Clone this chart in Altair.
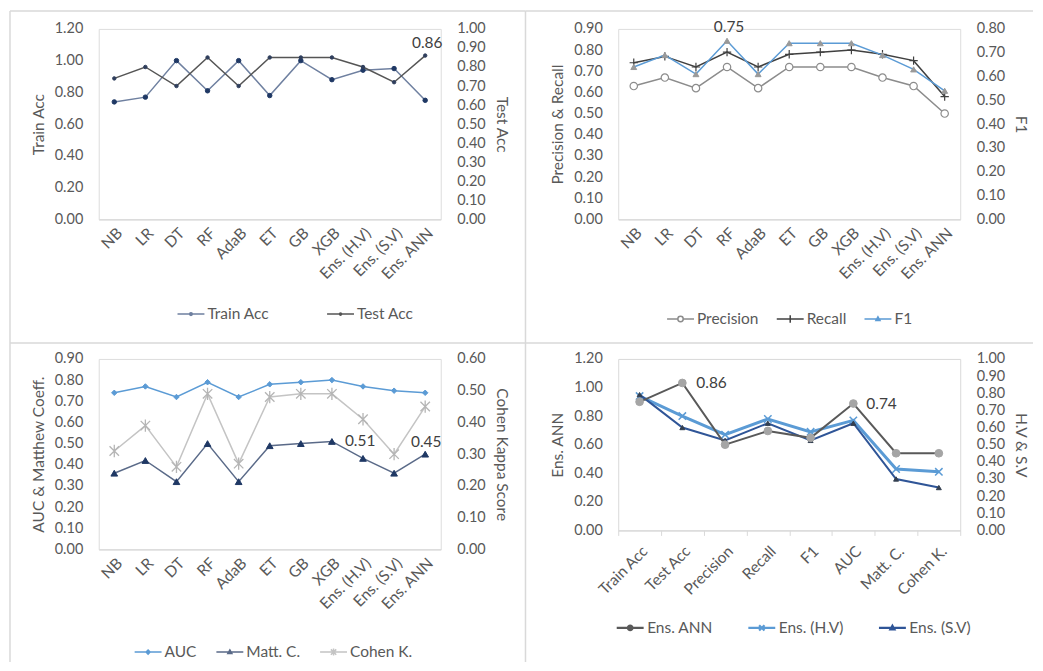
import altair as alt
import pandas as pd

FONT = "Lato"
TXT = "#595959"
DARK = "#404040"
FRAME = "#D9D9D9"

# ---------------- data ----------------
models = ["NB", "LR", "DT", "RF", "AdaB", "ET", "GB", "XGB",
          "Ens. (H.V)", "Ens. (S.V)", "Ens. ANN"]
train_acc = [0.74, 0.77, 1.00, 0.81, 1.00, 0.78, 1.00, 0.88, 0.94, 0.95, 0.75]
test_acc = [0.74, 0.80, 0.70, 0.85, 0.70, 0.85, 0.85, 0.85, 0.80, 0.72, 0.86]
precision = [0.63, 0.67, 0.62, 0.72, 0.62, 0.72, 0.72, 0.72, 0.67, 0.63, 0.50]
recall = [0.74, 0.77, 0.72, 0.79, 0.72, 0.78, 0.79, 0.80, 0.78, 0.75, 0.58]
f1 = [0.64, 0.69, 0.61, 0.75, 0.61, 0.74, 0.74, 0.74, 0.69, 0.63, 0.54]
auc = [0.74, 0.77, 0.72, 0.79, 0.72, 0.78, 0.79, 0.80, 0.77, 0.75, 0.74]
matt_c = [0.36, 0.42, 0.32, 0.50, 0.32, 0.49, 0.50, 0.51, 0.43, 0.36, 0.45]
cohen_k = [0.31, 0.39, 0.26, 0.49, 0.27, 0.48, 0.49, 0.49, 0.41, 0.30, 0.45]

metrics = ["Train Acc", "Test Acc", "Precision", "Recall", "F1", "AUC", "Matt. C.", "Cohen K."]


def ens_row(i):
    return [train_acc[i], test_acc[i], precision[i], recall[i], f1[i], auc[i], matt_c[i], cohen_k[i]]


ens_hv = ens_row(8)
ens_sv = ens_row(9)
ens_ann = ens_row(10)

ticks_12 = [0.0, 0.2, 0.4, 0.6, 0.8, 1.0, 1.2]
ticks_10 = [0.0, 0.1, 0.2, 0.3, 0.4, 0.5, 0.6, 0.7, 0.8, 0.9, 1.0]
ticks_09 = [0.0, 0.1, 0.2, 0.3, 0.4, 0.5, 0.6, 0.7, 0.8, 0.9]
ticks_08 = [0.0, 0.1, 0.2, 0.3, 0.4, 0.5, 0.6, 0.7, 0.8]
ticks_06 = [0.0, 0.1, 0.2, 0.3, 0.4, 0.5, 0.6]

# ---------------- marker shapes ----------------
P_PLUS = "M-1,0L1,0M0,-1L0,1"
P_X = "M-1,-1L1,1M-1,1L1,-1"
P_STAR = "M-1,-1L1,1M-1,1L1,-1M0,-1.3L0,1.3"

LINE = "M-1,0L1,0"


def circ(r):
    return f"M{-r},0A{r},{r},0,1,0,{r},0A{r},{r},0,1,0,{-r},0Z"


TRI = "M0,-0.16L0.15,0.11L-0.15,0.11Z"
DIA = "M0,-0.15L0.15,0L0,0.15L-0.15,0Z"


def S(name, values, color, width, shape, size, filled, mfill=None, mstroke=None, msw=1.0,
      lpath=LINE, lfill=None):
    return dict(name=name, values=values, color=color, width=width, shape=shape, size=size,
                filled=filled, mfill=mfill, mstroke=mstroke, msw=msw, lpath=lpath,
                lfill=lfill if lfill else (mfill if mfill else color))


def yaxis(ticks, title, orient):
    return alt.Axis(values=ticks, format=".2f", title=title, orient=orient, domain=False,
                    ticks=False, grid=False, labelPadding=16, titlePadding=8,
                    labelFont=FONT, labelFontSize=14.5, labelColor=TXT, labelOverlap=False,
                    titleFont=FONT, titleFontSize=15.5, titleFontWeight="normal", titleColor=TXT)


def series_layers(cats, s, X, Y):
    df = pd.DataFrame({"cat": cats, "value": s["values"]})
    base = alt.Chart(df)
    line = base.mark_line(color=s["color"], strokeWidth=s["width"]).encode(x=X, y=Y)
    kw = dict(shape=s["shape"], size=s["size"], filled=s["filled"], opacity=1,
              strokeWidth=s["msw"])
    if s["mfill"]:
        kw["fill"] = s["mfill"]
    kw["stroke"] = s["mstroke"] if s["mstroke"] else (s["mfill"] if s["mfill"] else s["color"])
    pt = base.mark_point(**kw).encode(x=X, y=Y)
    return [line, pt]


def label_layer(cats, s, idx, X, Y, dx, dy, align):
    df = pd.DataFrame({"cat": [cats[idx]], "value": [s["values"][idx]]})
    return alt.Chart(df).mark_text(dx=dx, dy=dy, align=align, baseline="middle", font=FONT,
                                   fontSize=15.5, color=DARK).encode(
        x=X, y=Y, text=alt.Text("value:Q", format=".2f"))


def legend_layer(series, lx, ly, colpad, sw):
    names = [s["name"] for s in series]
    d = pd.DataFrame({"series": names})
    leg = alt.Legend(title=None, orient="none", legendX=lx, legendY=ly, direction="horizontal",
                     symbolSize=729, symbolStrokeWidth=sw, symbolOpacity=1, labelOffset=2,
                     columnPadding=colpad, labelFont=FONT, labelFontSize=15.5, labelColor=TXT,
                     padding=0, labelLimit=200)
    return alt.Chart(d).mark_point(filled=True, opacity=0, size=1).encode(
        shape=alt.Shape("series:N", scale=alt.Scale(domain=names, range=[s["lpath"] for s in series]), legend=leg),
        fill=alt.Fill("series:N", scale=alt.Scale(domain=names, range=[s["lfill"] for s in series]), legend=leg),
        stroke=alt.Stroke("series:N", scale=alt.Scale(domain=names, range=[s["color"] for s in series]), legend=leg),
    )


def frame_layers(x1, x2, y1, y2):
    # top edge and left edge of the panel's outer border
    d = pd.DataFrame({"a": [0]})
    top = alt.Chart(d).mark_rule(color=FRAME, strokeWidth=1.5).encode(
        x=alt.value(x1), x2=alt.value(x2), y=alt.value(y1), y2=alt.value(y1))
    left = alt.Chart(d).mark_rule(color=FRAME, strokeWidth=1.5).encode(
        x=alt.value(x1), x2=alt.value(x1), y=alt.value(y1), y2=alt.value(y2))
    return [top, left]


def make_panel(cats, X, left, right, ldom, lticks, ltitle, rdom, rticks, rtitle,
               labels, legend, frame, w, h, sw=1.5):
    YL = alt.Y("value:Q", scale=alt.Scale(domain=ldom, nice=False, zero=True), axis=yaxis(lticks, ltitle, "left"))
    YR = alt.Y("value:Q", scale=alt.Scale(domain=rdom, nice=False, zero=True), axis=yaxis(rticks, rtitle, "right"))
    left_layers, right_layers = [], []
    for s in left:
        left_layers += series_layers(cats, s, X, YL)
    for s in right:
        right_layers += series_layers(cats, s, X, YR)
    for (side, s, idx, dx, dy, align) in labels:
        if side == "L":
            left_layers.append(label_layer(cats, s, idx, X, YL, dx, dy, align))
        else:
            right_layers.append(label_layer(cats, s, idx, X, YR, dx, dy, align))
    allser = legend["order"]
    return alt.layer(
        *frame_layers(*frame),
        alt.layer(*left_layers),
        alt.layer(*right_layers),
        legend_layer(allser, legend["x"], legend["y"], legend["pad"], sw),
    ).resolve_scale(y="independent").properties(width=w, height=h)


def xaxis_models():
    return alt.X("cat:N", scale=alt.Scale(type="point", domain=models, padding=0.5),
                 axis=alt.Axis(title=None, labelAngle=-45, ticks=False, domainColor=FRAME,
                               domainWidth=1.2, grid=False, labelFont=FONT, labelFontSize=15.5,
                               labelColor=TXT, labelPadding=6))


W, H = 343, 191

# ---------------- panel 1 ----------------
s_train = S("Train Acc", train_acc, "#6F80A0", 1.5, "circle", 20, True, mfill="#1F3864",
            lpath=LINE + circ(0.1))
s_test = S("Test Acc", test_acc, "#555555", 1.5, "circle", 12, True, mfill="#2F3E5C",
           lpath=LINE + circ(0.08))
X1 = xaxis_models()
p1 = make_panel(models, X1, [s_train], [s_test], [0, 1.2], ticks_12, "Train Acc",
                [0, 1.0], ticks_10, "Test Acc",
                labels=[("R", s_test, 10, 2, -13, "center")],
                legend=dict(order=[s_train, s_test], x=78, y=271.5, pad=55),
                frame=(-89, 428, -18, 315), w=W, h=H)

# ---------------- panel 2 ----------------
s_prec = S("Precision", precision, "#8C8C8C", 1.5, "circle", 55, False, mfill="white",
           mstroke="#8C8C8C", msw=1.2,
           lpath="M-1,0L-0.2,0M0.2,0L1,0" + circ(0.2), lfill="white")
s_rec = S("Recall", recall, "#404040", 1.5, P_PLUS, 70, False, mstroke="#404040", msw=1.2,
          lpath=LINE + "M0,-0.28L0,0.28")
s_f1 = S("F1", f1, "#5B9BD5", 1.5, "triangle-up", 35, True, mfill="#9A9A9A",
         lpath=LINE + TRI, lfill="#9A9A9A")
X2 = xaxis_models()
p2 = make_panel(models, X2, [s_prec, s_rec], [s_f1], [0, 0.9], ticks_09, "Precision & Recall",
                [0, 0.8], ticks_08, "F1",
                labels=[("R", s_f1, 3, 2, -14, "center")],
                legend=dict(order=[s_prec, s_rec, s_f1], x=48, y=276.5, pad=15),
                frame=(-93, 416, -18, 315), w=W, h=H)

# ---------------- panel 3 ----------------
s_auc = S("AUC", auc, "#5B9BD5", 1.5, "diamond", 30, True, mfill="#5B9BD5",
          lpath=LINE + DIA)
s_matt = S("Matt. C.", matt_c, "#5A6A88", 1.5, "triangle-up", 45, True, mfill="#1F3864",
           lpath=LINE + TRI, lfill="#1F3864")
s_coh = S("Cohen K.", cohen_k, "#C4C4C4", 1.5, P_STAR, 90, False, mstroke="#B5B5B5", msw=1.3,
          lpath=LINE + "M-0.2,-0.2L0.2,0.2M-0.2,0.2L0.2,-0.2M0,-0.26L0,0.26")
X3 = xaxis_models()
p3 = make_panel(models, X3, [s_auc, s_matt], [s_coh], [0, 0.9], ticks_09, "AUC & Matthew Coeff.",
                [0, 0.6], ticks_06, "Cohen Kappa Score",
                labels=[("L", s_matt, 7, 13, 0, "left"), ("L", s_matt, 10, 1, -12, "center")],
                legend=dict(order=[s_auc, s_matt, s_coh], x=35, y=279.5, pad=17),
                frame=(-89, 428, -16, 304), w=W, h=H)

# ---------------- panel 4 ----------------
s_ann = S("Ens. ANN", ens_ann, "#595959", 2, "circle", 60, True, mfill="#A5A5A5",
          lpath=LINE + circ(0.17), lfill="#A5A5A5")
s_hv = S("Ens. (H.V)", ens_hv, "#5B9BD5", 3, P_X, 55, False, mstroke="#5B9BD5", msw=1.5,
         lpath=LINE + "M-0.2,-0.2L0.2,0.2M-0.2,0.2L0.2,-0.2")
s_sv = S("Ens. (S.V)", ens_sv, "#2F5597", 2, "triangle-up", 25, True, mfill="#333F50",
         lpath=LINE + TRI, lfill="#333F50")
X4 = alt.X("cat:N", scale=alt.Scale(type="band", domain=metrics, paddingInner=0, paddingOuter=0),
           bandPosition=0.5,
           axis=alt.Axis(title=None, labelAngle=-45, ticks=True, tickBand="extent", tickSize=5,
                         tickColor=FRAME, domainColor=FRAME, domainWidth=1.2, grid=False,
                         labelFont=FONT, labelFontSize=15.5, labelColor=TXT, labelPadding=8))
p4 = make_panel(metrics, X4, [s_hv, s_sv], [s_ann], [0, 1.2], ticks_12, "Ens. ANN",
                [0, 1.0], ticks_10, "H.V & S.V",
                labels=[("R", s_ann, 1, 14, 0, "left"), ("R", s_ann, 5, 13, 0, "left")],
                legend=dict(order=[s_ann, s_hv, s_sv], x=-3, y=254.5, pad=31),
                frame=(-93, 416, -16, 304), w=W, h=172, sw=2.2)
p4 = p4.properties(view=alt.ViewBackground(stroke=FRAME, strokeWidth=1))

chart = alt.concat(p1, p2, p3, p4, columns=2, spacing={"row": 140, "column": 178},
                   bounds="flush").resolve_scale(
    shape="independent", fill="independent", stroke="independent"
).resolve_legend(
    shape="independent", fill="independent", stroke="independent"
).properties(padding=0).configure_view(stroke=None).configure(
    background="white", font=FONT)

chart.save("out.html", embed_options={"renderer": "svg", "actions": False})
